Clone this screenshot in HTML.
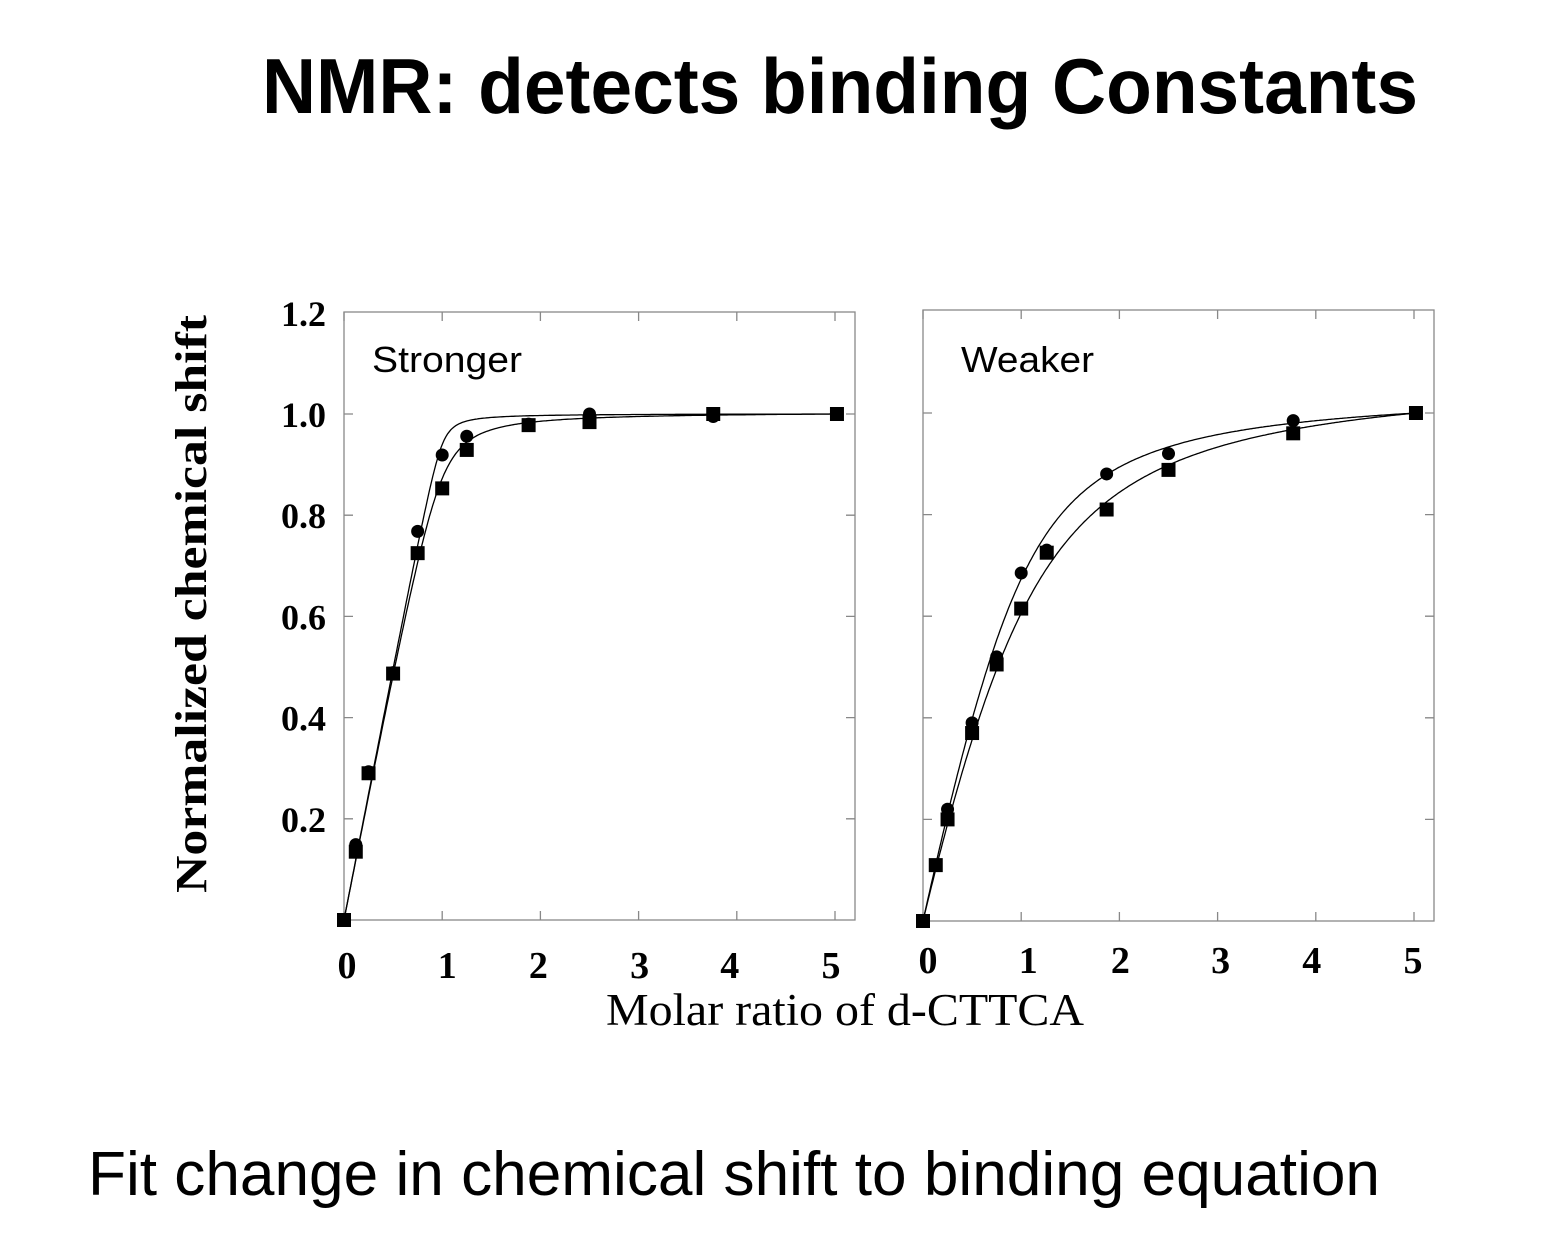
<!DOCTYPE html>
<html><head><meta charset="utf-8">
<style>
html,body{margin:0;padding:0;background:#fff;}
svg{display:block;}
</style></head>
<body>
<svg id="chart" width="1544" height="1242" viewBox="0 0 1544 1242" xmlns="http://www.w3.org/2000/svg">
<text x="262" y="113" font-family="Liberation Sans, sans-serif" font-weight="bold" font-size="78" textLength="1156" lengthAdjust="spacingAndGlyphs">NMR: detects binding Constants</text>
<text x="88" y="1195" font-family="Liberation Sans, sans-serif" font-size="62" textLength="1292" lengthAdjust="spacingAndGlyphs">Fit change in chemical shift to binding equation</text>
<text transform="translate(206,604) rotate(-90)" text-anchor="middle" font-family="Liberation Serif, serif" font-weight="bold" font-size="44" textLength="578" lengthAdjust="spacingAndGlyphs">Normalized chemical shift</text>
<text x="845" y="1025" text-anchor="middle" font-family="Liberation Serif, serif" font-size="45" textLength="478" lengthAdjust="spacingAndGlyphs">Molar ratio of d-CTTCA</text>
<g id="panels"></g>
</svg>
<script>
const xTicks = [0,1,2,3,4,5];
const yTicks = [0.2,0.4,0.6,0.8,1.0,1.2];
const yTickLabels = ["0.2","0.4","0.6","0.8","1.0","1.2"];
const strongX = [0,0.12,0.25,0.5,0.75,1.0,1.25,1.88,2.5,3.76,5.02];
const strongCircles = [0,0.149,0.293,0.489,0.768,0.919,0.956,0.98,1.0,0.995,1.0];
const strongSquares = [0,0.135,0.29,0.487,0.725,0.853,0.929,0.978,0.984,1.0,1.0];
const weakX = [0,0.13,0.25,0.5,0.75,1.0,1.26,1.87,2.5,3.77,5.02];
const weakCircles = [0,0.11,0.22,0.39,0.52,0.685,0.73,0.88,0.92,0.985,1.0];
const weakSquares = [0,0.11,0.20,0.37,0.505,0.615,0.725,0.81,0.888,0.96,1.0];
const strongK = [0.004,0.02];
const weakK = [0.2,0.35];

const NS="http://www.w3.org/2000/svg";
const root=document.getElementById('panels');
function mk(tag,attrs,parent){const e=document.createElementNS(NS,tag);for(const k in attrs)e.setAttribute(k,attrs[k]);(parent||root).appendChild(e);return e;}
function bind(r,k){const b=1+r+k;return (b-Math.sqrt(b*b-4*r))/2;}

function panel(opt){
  const g=mk('g',{});
  
  
  const sx=v=>opt.x0+v*opt.ux, sy=v=>opt.y0-v*opt.uy;
  const fr=mk('rect',{x:opt.left,y:opt.top,width:opt.right-opt.left,height:opt.y0-opt.top,fill:'none',stroke:'#888','stroke-width':1.3},g);
  
  
  xTicks.forEach((t,i)=>{
    const X=sx(t);
    const tk=mk('path',{d:`M${X},${opt.y0}v-9M${X},${opt.top}v9`,stroke:'#888','stroke-width':1.3},g);
    
    
    const tl=mk('text',{x:X+opt.xlOff[i],y:opt.xlY,'text-anchor':'middle','font-family':'Liberation Serif, serif','font-weight':'bold','font-size':38},g);
    tl.textContent=String(t);
    
    
  });
  yTicks.forEach((t,i)=>{
    const Y=sy(t);
    if(t<1.15){
      const tk=mk('path',{d:`M${opt.left},${Y}h9M${opt.right},${Y}h-9`,stroke:'#888','stroke-width':1.3},g);
      
      
    }
    if(opt.yLabels){
      const tl=mk('text',{x:326,y:Y+13,'text-anchor':'end','font-family':'Liberation Serif, serif','font-weight':'bold','font-size':36},g);
      tl.textContent=yTickLabels[i];
      
      
    }
  });
  const lab=mk('text',{x:opt.labX,y:372,'font-family':'Liberation Sans, sans-serif','font-size':36,textLength:opt.labW,lengthAdjust:'spacingAndGlyphs'},g);
  lab.textContent=opt.label;
  
  
  [opt.circles,opt.squares].forEach((ser,si)=>{
    const k=opt.k[si];
    const xmax=opt.xs[opt.xs.length-1];
    const scale=ser[ser.length-1]/bind(xmax,k);
    let d='';
    for(let j=0;j<=300;j++){const r=xmax*j/300;d+=(j?'L':'M')+sx(r).toFixed(1)+','+sy(bind(r,k)*scale).toFixed(1);}
    const p=mk('path',{d:d,fill:'none',stroke:'#000','stroke-width':1.3},g);
    
    
  });
  opt.xs.forEach((x,i)=>{
    const c=mk('circle',{cx:sx(x),cy:sy(opt.circles[i]),r:6.5,fill:'#000'},g);
    
    
  });
  opt.xs.forEach((x,i)=>{
    const s=mk('rect',{x:sx(x)-7,y:sy(opt.squares[i])-7,width:14,height:14,fill:'#000'},g);
    
    
  });
}
panel({name:'stronger-panel',label:'Stronger',labX:372,labW:150,left:344,right:855,top:312,x0:344,ux:98.2,y0:920,uy:506,
  xs:strongX,circles:strongCircles,squares:strongSquares,k:strongK,yLabels:true,xlY:978,xlOff:[3,5,-2,1,-7,-4]});
panel({name:'weaker-panel',label:'Weaker',labX:961,labW:133,left:923,right:1434,top:310,x0:923,ux:98.2,y0:921,uy:508,
  xs:weakX,circles:weakCircles,squares:weakSquares,k:weakK,yLabels:false,xlY:973,xlOff:[5,7,1,3,-4,-1]});
</script>
</body></html>
